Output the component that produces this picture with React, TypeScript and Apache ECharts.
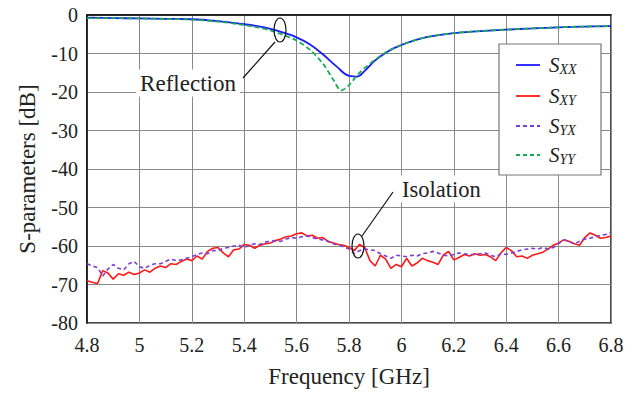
import React, { useEffect, useRef } from "react";
import * as echarts from "echarts";

// Reflection curves (GHz, dB)
const freqRefl = [4.8, 4.9, 5.0, 5.1, 5.2, 5.3, 5.4, 5.45, 5.5, 5.55, 5.6, 5.65, 5.7, 5.75, 5.8, 5.83, 5.86, 5.9, 5.95, 6.0, 6.05, 6.1, 6.2, 6.3, 6.4, 6.5, 6.6, 6.7, 6.8];
const sXX = [-0.7, -0.8, -0.9, -1.0, -1.1, -1.6, -2.4, -2.9, -3.6, -4.6, -5.8, -7.6, -10.2, -13.2, -15.8, -16.0, -14.5, -11.8, -9.4, -7.8, -6.6, -5.7, -4.7, -4.2, -3.8, -3.5, -3.2, -3.0, -2.9];
const freqYY = [4.8, 4.9, 5.0, 5.1, 5.2, 5.3, 5.4, 5.45, 5.5, 5.55, 5.6, 5.65, 5.7, 5.74, 5.77, 5.8, 5.84, 5.9, 5.95, 6.0, 6.05, 6.1, 6.2, 6.3, 6.4, 6.5, 6.6, 6.7, 6.8];
const sYY = [-0.8, -0.8, -0.9, -1.0, -1.2, -1.7, -2.6, -3.2, -4.0, -5.2, -6.6, -9.0, -12.6, -16.8, -19.6, -18.2, -15.0, -11.6, -9.3, -7.8, -6.6, -5.7, -4.7, -4.2, -3.8, -3.5, -3.2, -3.0, -2.9];

// Isolation curves
const freqIso = [
  4.8, 4.82, 4.84, 4.86, 4.88, 4.9, 4.92, 4.94, 4.96, 4.98,
  5.0, 5.02, 5.04, 5.06, 5.08, 5.1, 5.12, 5.14, 5.16, 5.18,
  5.2, 5.22, 5.24, 5.26, 5.28, 5.3, 5.32, 5.34, 5.36, 5.38,
  5.4, 5.42, 5.44, 5.46, 5.48, 5.5, 5.52, 5.54, 5.56, 5.58,
  5.6, 5.62, 5.64, 5.66, 5.68, 5.7, 5.72, 5.74, 5.76, 5.78,
  5.8, 5.82, 5.84, 5.86, 5.88, 5.9, 5.92, 5.94, 5.96, 5.98,
  6.0, 6.02, 6.04, 6.06, 6.08, 6.1, 6.12, 6.14, 6.16, 6.18,
  6.2, 6.22, 6.24, 6.26, 6.28, 6.3, 6.32, 6.34, 6.36, 6.38,
  6.4, 6.42, 6.44, 6.46, 6.48, 6.5, 6.52, 6.54, 6.56, 6.58,
  6.6, 6.62, 6.64, 6.66, 6.68, 6.7, 6.72, 6.74, 6.76, 6.78, 6.8,
];
const sXY = [
  -69.0, -69.4, -69.8, -66.4, -67.0, -68.6, -67.2, -67.6, -66.8, -67.4,
  -67.0, -66.2, -66.8, -65.8, -65.2, -65.6, -64.6, -64.8, -64.0, -63.4,
  -63.8, -62.6, -63.4, -61.4, -60.6, -60.4, -61.8, -62.8, -61.0, -60.8,
  -59.6, -59.8, -60.6, -59.8, -59.4, -59.2, -58.6, -58.2, -57.6, -57.4,
  -56.8, -56.6, -57.4, -57.2, -58.0, -57.8, -58.8, -59.2, -59.6, -59.8,
  -60.4, -61.2, -59.6, -60.4, -63.8, -65.2, -62.4, -63.4, -65.8, -64.8,
  -65.4, -63.2, -65.2, -64.4, -63.2, -63.8, -64.2, -64.8, -62.4, -61.4,
  -63.6, -63.0, -62.2, -62.6, -62.0, -62.4, -62.2, -62.8, -63.8, -61.8,
  -60.4, -61.2, -62.8, -62.6, -63.2, -62.4, -62.0, -61.6, -60.8, -59.8,
  -59.2, -58.4, -58.8, -59.4, -59.8, -57.8, -56.6, -57.2, -58.0, -57.8, -57.4,
];
const sYX = [
  -64.6, -65.2, -65.6, -67.8, -66.0, -64.8, -65.8, -66.2, -64.6, -64.0,
  -65.4, -65.8, -65.0, -64.6, -64.6, -64.0, -63.4, -63.8, -63.6, -63.2,
  -62.8, -62.2, -61.8, -62.0, -61.2, -61.2, -60.6, -60.4, -60.0, -59.8,
  -60.4, -59.8, -59.4, -59.6, -59.0, -58.8, -58.6, -58.8, -58.2, -57.8,
  -58.0, -57.6, -57.4, -57.8, -58.2, -58.4, -58.8, -59.4, -59.8, -60.2,
  -60.8, -62.0, -61.2, -60.8, -61.0, -61.2, -62.0, -62.6, -63.2, -62.4,
  -62.6, -62.8, -62.4, -62.6, -62.0, -61.8, -61.4, -61.8, -62.4, -62.6,
  -62.2, -61.8, -62.0, -62.2, -62.2, -62.0, -61.8, -62.4, -62.8, -62.0,
  -62.2, -61.8, -61.4, -61.0, -60.8, -60.6, -60.8, -60.4, -60.8, -60.4,
  -59.4, -58.4, -58.8, -59.4, -58.8, -58.2, -58.0, -57.6, -57.2, -57.0, -56.4,
];

const seriesNames = ["SXX", "SXY", "SYX", "SYY"];
const subscripts = ["XX", "XY", "YX", "YY"];
const colors = ["#1a1aff", "#ff1a1a", "#7a3fd6", "#1aaa55"];
const dashes: (number[] | null)[] = [null, null, [4, 3], [4, 3]];

const zip = (xs: number[], ys: number[]) => xs.map((x, i) => [x, ys[i]]);

const SERIF = "Liberation Serif";

export default function App() {
  const ref = useRef<HTMLDivElement>(null);
  useEffect(() => {
    document.body.style.margin = "0";
    if (!ref.current) return;
    const chart = echarts.init(ref.current, undefined, { renderer: "svg" });

    const legendTop = 44;
    const legendLeft = 499;
    const rowY = [65, 96, 126, 155];
    const legendGraphics: any[] = [
      {
        type: "rect",
        shape: { x: legendLeft, y: legendTop, width: 102, height: 131 },
        style: { fill: "#fff", stroke: "#777", lineWidth: 1.2 },
        z: 100,
      },
    ];
    seriesNames.forEach((_, i) => {
      legendGraphics.push({
        type: "line",
        shape: { x1: 516, y1: rowY[i], x2: 540, y2: rowY[i] },
        style: { stroke: colors[i], lineWidth: 1.8, lineDash: dashes[i] || undefined },
        z: 101,
      });
      legendGraphics.push({
        type: "text",
        x: 549,
        y: rowY[i],
        style: {
          text: `{s|S}{sub|${subscripts[i]}}`,
          verticalAlign: "middle",
          rich: {
            s: { fontFamily: SERIF, fontStyle: "italic", fontSize: 21, fill: "#222", lineHeight: 22 },
            sub: { fontFamily: SERIF, fontStyle: "italic", fontSize: 14, fill: "#222", verticalAlign: "bottom", lineHeight: 16, padding: [7, 0, 0, 0] },
          },
        },
        z: 101,
      });
    });

    chart.setOption({
      animation: false,
      backgroundColor: "#fff",
      grid: {
        left: 87,
        right: 27,
        top: 15,
        bottom: 72,
        show: true,
        borderColor: "#111",
        borderWidth: 1.5,
        backgroundColor: "transparent",
      },
      xAxis: {
        type: "value",
        min: 4.8,
        max: 6.8,
        interval: 0.2,
        name: "Frequency [GHz]",
        nameLocation: "middle",
        nameGap: 42,
        nameTextStyle: { fontFamily: SERIF, fontSize: 23, color: "#222" },
        axisLine: { show: true, lineStyle: { color: "#111", width: 1.5 } },
        axisTick: { show: false },
        axisLabel: {
          fontFamily: SERIF,
          fontSize: 20,
          color: "#222",
          margin: 12,
          formatter: (v: number) => String(parseFloat(v.toFixed(1))),
        },
        splitLine: { show: true, lineStyle: { color: "#8a8a8a", width: 1 } },
      },
      yAxis: {
        type: "value",
        min: -80,
        max: 0,
        interval: 10,
        name: "S-parameters [dB]",
        nameLocation: "middle",
        nameGap: 48,
        nameTextStyle: { fontFamily: SERIF, fontSize: 23, color: "#222" },
        axisLine: { show: true, lineStyle: { color: "#111", width: 1.5 } },
        axisTick: { show: false },
        axisLabel: { fontFamily: SERIF, fontSize: 20, color: "#222", margin: 9 },
        splitLine: { show: true, lineStyle: { color: "#8a8a8a", width: 1 } },
      },
      series: [
        {
          name: "SXX",
          type: "line",
          data: zip(freqRefl, sXX),
          smooth: 0.4,
          symbol: "none",
          lineStyle: { color: colors[0], width: 1.8 },
          itemStyle: { color: colors[0] },
        },
        {
          name: "SXY",
          type: "line",
          data: zip(freqIso, sXY),
          symbol: "none",
          lineStyle: { color: colors[1], width: 1.6 },
          itemStyle: { color: colors[1] },
        },
        {
          name: "SYX",
          type: "line",
          data: zip(freqIso, sYX),
          symbol: "none",
          lineStyle: { color: colors[2], width: 1.6, type: [4, 3] },
          itemStyle: { color: colors[2] },
        },
        {
          name: "SYY",
          type: "line",
          data: zip(freqYY, sYY),
          smooth: 0.3,
          symbol: "none",
          lineStyle: { color: colors[3], width: 1.8, type: [5, 3] },
          itemStyle: { color: colors[3] },
        },
      ],
      graphic: [
        {
          type: "ellipse",
          shape: { cx: 280, cy: 30, rx: 6, ry: 12 },
          style: { fill: "none", stroke: "#111", lineWidth: 1.2 },
          z: 100,
        },
        {
          type: "line",
          shape: { x1: 275, y1: 42, x2: 243, y2: 78 },
          style: { stroke: "#111", lineWidth: 1.2 },
          z: 100,
        },
        {
          type: "text",
          x: 188,
          y: 83,
          style: {
            text: "Reflection",
            fontFamily: SERIF,
            fontSize: 23,
            fill: "#222",
            align: "center",
            verticalAlign: "middle",
            backgroundColor: "#fff",
            padding: [2, 4, 2, 4],
          },
          z: 100,
        },
        {
          type: "ellipse",
          shape: { cx: 358, cy: 246, rx: 6, ry: 12 },
          style: { fill: "none", stroke: "#111", lineWidth: 1.2 },
          z: 100,
        },
        {
          type: "line",
          shape: { x1: 362, y1: 236, x2: 393, y2: 192 },
          style: { stroke: "#111", lineWidth: 1.2 },
          z: 100,
        },
        {
          type: "text",
          x: 399,
          y: 189,
          style: {
            text: "Isolation",
            fontFamily: SERIF,
            fontSize: 22.5,
            fill: "#222",
            align: "left",
            verticalAlign: "middle",
            backgroundColor: "#fff",
            padding: [2, 3, 2, 3],
          },
          z: 100,
        },
        ...legendGraphics,
      ],
    });
    return () => chart.dispose();
  }, []);
  return <div ref={ref} style={{ position: "absolute", left: 0, top: 0, width: 638, height: 395 }} />;
}
